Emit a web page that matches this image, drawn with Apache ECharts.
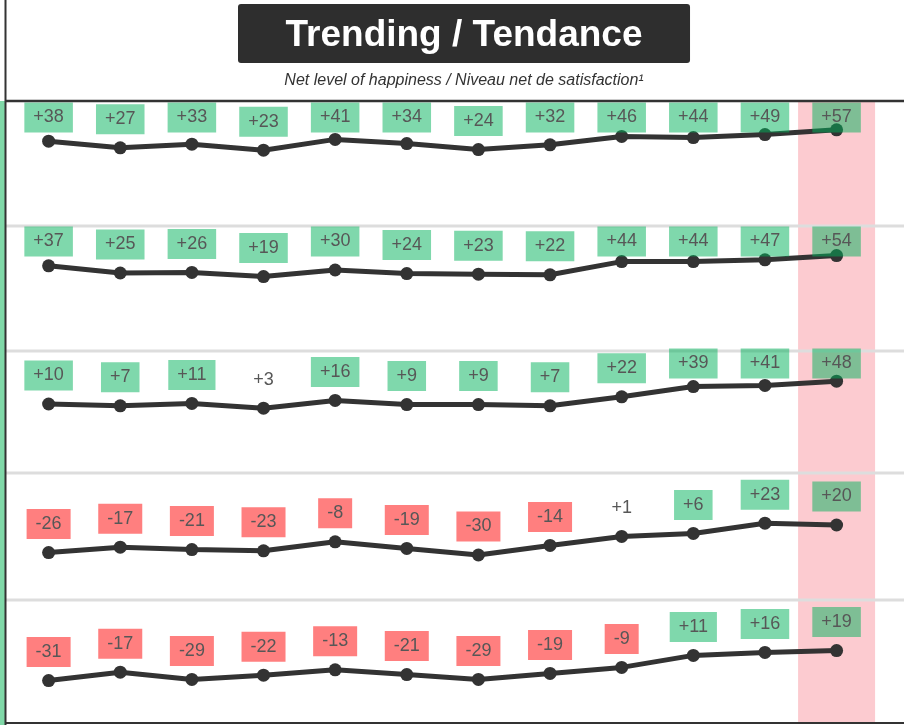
<!DOCTYPE html>
<html>
<head>
<meta charset="utf-8">
<script src="https://cdn.jsdelivr.net/npm/echarts@6/dist/echarts.min.js"></script>
<style>html,body{margin:0;padding:0;background:#fff}#c{width:904px;height:725px}</style>
</head>
<body>
<div id="c"></div>
<script>
var categories = ['1','2','3','4','5','6','7','8','9','10','11','12'];
var row1 = [38,27,33,23,41,34,24,32,46,44,49,57];
var row2 = [37,25,26,19,30,24,23,22,44,44,47,54];
var row3 = [10,7,11,3,16,9,9,7,22,39,41,48];
var row4 = [-26,-17,-21,-23,-8,-19,-30,-14,1,6,23,20];
var row5 = [-31,-17,-29,-22,-13,-21,-29,-19,-9,11,16,19];
var highlight = [0,0,0,0,0,0,0,0,0,0,0,1];
var rows = [row1,row2,row3,row4,row5];

var FONT = "'Liberation Sans', Arial, sans-serif";
var GREEN = 'rgba(0,178,90,0.5)';
var RED = 'rgba(255,0,0,0.5)';
var sepY = [101, 226, 351, 473, 600];
var zeroY = [164, 288, 410, 537, 662];
var LEFT = 12.8, RIGHT = 904 - 872.4;

var grids = [{left: LEFT, right: RIGHT, top: 102, bottom: 3}];
var xAxes = [{type:'category', data: categories, gridIndex:0, show:false, boundaryGap:true}];
var yAxes = [{type:'value', gridIndex:0, min:0, max:1, show:false}];
var series = [{
  type:'bar', xAxisIndex:0, yAxisIndex:0, data: highlight, barWidth: 77, silent:true, z:1, clip:false,
  itemStyle:{color:'#fccbd0'}, animation:false
}];

rows.forEach(function(vals, i){
  var gi = i + 1;
  grids.push({left: LEFT, right: RIGHT, top: zeroY[i] - 60, height: 120});
  xAxes.push({type:'category', data: categories, gridIndex: gi, show:false, boundaryGap:true});
  yAxes.push({type:'value', gridIndex: gi, min:-100, max:100, show:false});
  var clampTop = zeroY[i] - 61.5;
  series.push({
    type:'line', xAxisIndex: gi, yAxisIndex: gi, z:3,
    data: vals.map(function(v){
      var bg = v >= 5 ? GREEN : (v <= -5 ? RED : 'transparent');
      return {value: v, label: {backgroundColor: bg}};
    }),
    symbol:'circle', symbolSize: 13, animation:false,
    lineStyle:{color:'#333', width:5},
    itemStyle:{color:'#333'},
    label:{
      show:true, position:'top', distance: 7,
      formatter: function(p){ return p.value > 0 ? '+' + p.value : '' + p.value; },
      fontFamily: FONT, fontSize: 18, lineHeight: 18, color:'#575757',
      padding:[6,9,6,9]
    },
    labelLayout: function(params){
      var r = params.labelRect;
      if (r && r.y < clampTop) { return {dy: clampTop - r.y}; }
      return {};
    }
  });
});

var graphics = [
  {type:'rect', shape:{x:0, y:101, width:5, height:624}, style:{fill:'rgb(128,216,168)'}, z:10},
  {type:'line', shape:{x1:5.5, y1:0, x2:5.5, y2:725}, style:{stroke:'#333', lineWidth:2}, z:11},
  {type:'line', shape:{x1:5, y1:101, x2:904, y2:101}, style:{stroke:'#333', lineWidth:2.5}, z:11},
  {type:'line', shape:{x1:5, y1:723, x2:904, y2:723}, style:{stroke:'#333', lineWidth:2}, z:11},
  {type:'text', x:464, y:81, style:{text:'Net level of happiness / Niveau net de satisfaction\u00b9', fill:'#333', font:'italic 16px ' + FONT, textAlign:'center', textVerticalAlign:'middle'}, z:11}
];
sepY.slice(1).forEach(function(y){
  graphics.push({type:'line', shape:{x1:6, y1:y, x2:904, y2:y}, style:{stroke:'#dddddd', lineWidth:3}, z:2});
});

var chart = echarts.init(document.getElementById('c'), null, {renderer:'canvas'});
chart.setOption({
  backgroundColor:'#fff',
  animation:false,
  title:[{
    text:'Trending / Tendance', left:238, top:4, padding:[13,47.5,9,47.5],
    backgroundColor:'#2e2e2e', borderRadius:3,
    textStyle:{color:'#fff', fontSize:37, fontWeight:'bold', fontFamily:FONT, lineHeight:37}
  }],
  grid: grids, xAxis: xAxes, yAxis: yAxes, series: series,
  graphic: graphics
});
</script>
</body>
</html>
